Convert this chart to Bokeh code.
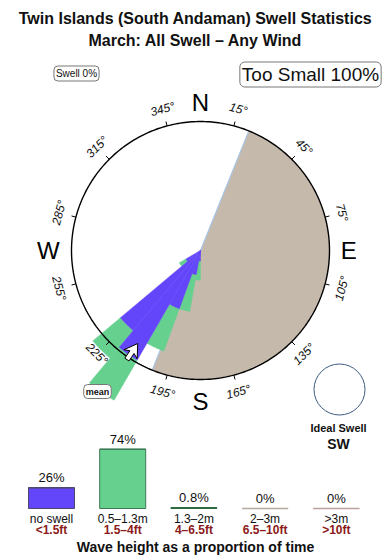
import numpy as np
from bokeh.plotting import figure
from bokeh.models import Range1d, Label
from bokeh.core.properties import value
from bokeh.embed import file_html
from bokeh.resources import INLINE

# ---------------- data ----------------
title_1 = "Twin Islands (South Andaman) Swell Statistics"
title_2 = "March: All Swell \u2013 Any Wind"
swell_pct_text = "Swell 0%"
too_small_text = "Too Small 100%"

# swell rose: direction bins (deg, centre), relative frequency (circle = 100)
rose_dirs = [185, 195, 205, 215, 225, 235]
rose_no_swell = [8, 19, 48, 98, 81, 13]      # inner (blue) part
rose_small = [15, 29, 35, 36, 28, 6]         # 0.5-1.3m (green) part stacked on top
rose_bin_width = 10
shadow_from, shadow_to = 22, 202             # sheltered sector
mean_dir = 214
tick_degs = [15, 45, 75, 105, 135, 165, 195, 225, 255, 285, 315, 345]
compass = ["N", "E", "S", "W"]
compass_degs = [0, 90, 180, 270]
ideal_text = "Ideal Swell"
ideal_dir = "SW"

bar_cats = ["no swell", "0.5\u20131.3m", "1.3\u20132m", "2\u20133m", ">3m"]
bar_ft = ["<1.5ft", "1.5\u20134ft", "4\u20136.5ft", "6.5\u201310ft", ">10ft"]
bar_pct = [26, 74, 0.8, 0, 0]
bar_pct_labels = ["26%", "74%", "0.8%", "0%", "0%"]
footer = "Wave height as a proportion of time"

# ---------------- styles / layout ----------------
W, H = 390, 560
FONT = "Liberation Sans"
BLUE, GREEN, GREY = "#6446fa", "#66d08e", "#c5b9ac"
bar_fill = [BLUE, GREEN, "#2e7d4f", "#c5b9ac", "#c9a9a9"]
bar_line = ["#4a4a70", "#3d7a55", "#2e6b40", "#b5ab9c", "#bda1a1"]
CX, CY = 200, 250          # rose centre (pixels from top-left)
R = 129                    # rose radius in pixels (= 100 units)
BAR_BASE = 508
BAR_X0, BAR_STEP, BAR_W = 51, 71.2, 46
BAR_PX_PER_PCT = 0.8

def Y(yp):
    return H - yp

def pol(r_units, bearing):
    r = r_units * R / 100.0
    b = np.radians(bearing)
    return CX + r * np.sin(b), Y(CY) + r * np.cos(b)

def sector(b0, b1, r0, r1, n=24):
    bs = np.linspace(b0, b1, n)
    xo, yo = pol(r1, bs)
    if r0 <= 0:
        xi, yi = pol(0, np.array([0.0]))
    else:
        xi, yi = pol(r0, bs[::-1])
    return list(np.concatenate([xo, xi])), list(np.concatenate([yo, yi]))

p = figure(width=W, height=H, x_range=Range1d(0, W), y_range=Range1d(0, H),
           output_backend="svg", toolbar_location=None, min_border=0)
p.axis.visible = False
p.grid.visible = False
p.outline_line_color = None
p.background_fill_color = "white"
p.border_fill_color = "white"

# titles
p.text(x=[W / 2, W / 2], y=[Y(18), Y(40)], text=[title_1, title_2],
       text_align="center", text_baseline="middle", text_font=value(FONT),
       text_font_style="bold", text_font_size="16px", text_color="#111111")

# boxed labels
p.add_layout(Label(x=76, y=Y(73), text=swell_pct_text, text_align="center",
                   text_baseline="middle", text_font=FONT, text_font_size="10px",
                   text_color="#111111",
                   background_fill_color="white", border_line_color="#777777",
                   border_line_width=1, border_radius=4, padding=2))
p.add_layout(Label(x=310, y=Y(74), text=too_small_text, text_align="center",
                   text_baseline="middle", text_font=FONT, text_font_size="19px",
                   text_color="#111111",
                   background_fill_color="white", border_line_color="#777777",
                   border_line_width=1, border_radius=5, padding=2))

# sheltered sector
sx, sy = sector(shadow_from, shadow_to, 0, 100, n=120)
p.patch(sx, sy, fill_color=GREY, line_color=None)
for b in (shadow_from, shadow_to):
    ex, ey = pol(100, b)
    p.line([CX, ex], [Y(CY), ey], line_color="#a8c4e6", line_width=1.2)

# rose wedges
bx, by, gx, gy = [], [], [], []
for d, ns, sm in zip(rose_dirs, rose_no_swell, rose_small):
    b0, b1 = d - rose_bin_width / 2, d + rose_bin_width / 2
    xs, ys = sector(b0, b1, 0, ns)
    bx.append(xs); by.append(ys)
    xs, ys = sector(b0, b1, ns, ns + sm)
    gx.append(xs); gy.append(ys)
p.patches(gx, gy, fill_color=GREEN, line_color=GREEN, line_width=0.5)
p.patches(bx, by, fill_color=BLUE, line_color=BLUE, line_width=0.5)

# circle and ticks
cb = np.linspace(0, 360, 361)
ccx, ccy = pol(100, cb)
p.line(list(ccx), list(ccy), line_color="black", line_width=1.4)
t0x, t0y = pol(100, np.array(tick_degs, dtype=float))
t1x, t1y = pol(103.5, np.array(tick_degs, dtype=float))
p.segment(x0=list(t0x), y0=list(t0y), x1=list(t1x), y1=list(t1y),
          line_color="black", line_width=1)

# tick labels
lx, ly = pol(113.5, np.array(tick_degs, dtype=float))
angs = []
for t in tick_degs:
    rot = 180 - t if 90 < t < 270 else -t
    if rot < -180:
        rot += 360
    angs.append(np.radians(rot))
p.text(x=list(lx), y=list(ly), text=[f"{t}\u00b0" for t in tick_degs], angle=angs,
       text_align="center", text_baseline="middle", text_font=value(FONT),
       text_font_style="italic", text_font_size="12px", text_color="#111111")

# compass letters
cx_, cy_ = pol(np.array([115, 115, 117, 118]), np.array(compass_degs, dtype=float))
p.text(x=list(cx_), y=list(cy_), text=compass, text_align="center",
       text_baseline="middle", text_font=value(FONT), text_font_size="24px",
       text_color="black")

# mean arrow
th = np.radians(mean_dir)
dvec = np.array([np.sin(th), np.cos(th)])
pvec = np.array([np.cos(th), -np.sin(th)])
arrow_uv = [(87, 0), (97, -8), (95, -2.5), (102, -2.5), (102, 2.5), (95, 2.5), (97, 8)]
ax, ay = [], []
for u, v in arrow_uv:
    pt = np.array([CX, Y(CY)]) + (u * R / 100.0) * dvec + v * pvec
    ax.append(pt[0]); ay.append(pt[1])
p.patch(ax, ay, fill_color="white", line_color="black", line_width=1)
p.add_layout(Label(x=97, y=Y(391), text="mean", text_align="center",
                   text_baseline="middle", text_font=FONT, text_font_size="9px",
                   text_font_style="bold", text_color="#111111",
                   background_fill_color="white", border_line_color="#777777",
                   border_line_width=1, border_radius=4, padding=2))

# ideal swell
p.circle(x=[339], y=[Y(389)], radius=25.5, fill_color="white",
         line_color="#3d5a80", line_width=1)
p.text(x=[338, 338], y=[Y(427), Y(443)], text=[ideal_text, ideal_dir],
       text_align="center", text_baseline="middle", text_font=value(FONT),
       text_font_style="bold", text_font_size=["11px", "14px"], text_color="#111111")

# bar chart
bxs = [BAR_X0 + i * BAR_STEP for i in range(len(bar_cats))]
tops = [Y(BAR_BASE) + v * BAR_PX_PER_PCT for v in bar_pct]
p.vbar(x=bxs, bottom=Y(BAR_BASE), top=tops, width=BAR_W, fill_color=bar_fill,
       line_color=bar_line, line_width=1)
p.segment(x0=[x - BAR_W / 2 for x in bxs], x1=[x + BAR_W / 2 for x in bxs],
          y0=tops, y1=tops, line_color=bar_line, line_width=1.6)
p.text(x=bxs, y=[t + 10 for t in tops], text=bar_pct_labels, text_align="center",
       text_baseline="middle", text_font=value(FONT), text_font_size="13px",
       text_color="#111111")
p.text(x=bxs, y=[Y(518)] * len(bxs), text=bar_cats, text_align="center",
       text_baseline="middle", text_font=value(FONT), text_font_size="12px",
       text_color="#111111")
p.text(x=bxs, y=[Y(529.5)] * len(bxs), text=bar_ft, text_align="center",
       text_baseline="middle", text_font=value(FONT), text_font_size="12px",
       text_font_style="bold", text_color="#8b1a1a")
p.text(x=[W / 2], y=[Y(546)], text=[footer], text_align="center",
       text_baseline="middle", text_font=value(FONT), text_font_size="14px",
       text_font_style="bold", text_color="#111111")

open("out.html", "w").write(file_html(p, INLINE))
